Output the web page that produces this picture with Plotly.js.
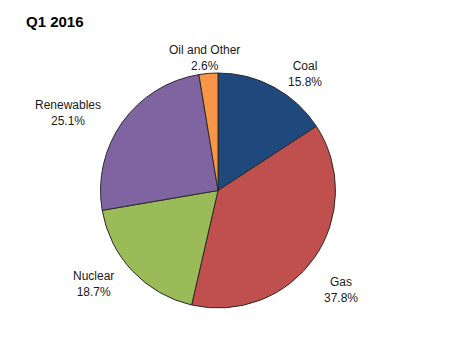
<!DOCTYPE html>
<html><head><meta charset="utf-8">
<script src="https://cdn.plot.ly/plotly-3.0.1.min.js"></script>
<style>html,body{margin:0;padding:0;background:#fff}#chart{width:459px;height:362px}</style>
</head><body><div id="chart"></div>
<script>
const categories = ["Coal", "Gas", "Nuclear", "Renewables", "Oil and Other"];
const shares = [15.8, 37.8, 18.7, 25.1, 2.6];
const sliceColors = ["#1F497D", "#C0504D", "#9BBB59", "#8064A2", "#F79646"];
const chartTitle = "Q1 2016";
// label block centres in pixels (layout only)
const labelPos = [[305, 74], [341, 290], [93, 284], [68, 113], [204, 58]];

const W = 459, H = 362;
const annotations = categories.map((c, i) => ({
  text: c + "<br>" + shares[i].toFixed(1) + "%",
  xref: "paper", yref: "paper",
  x: labelPos[i][0] / W, y: 1 - labelPos[i][1] / H,
  xanchor: "center", yanchor: "middle",
  showarrow: false,
  font: {family: "Arial, Liberation Sans, sans-serif", size: 12, color: "#1a1a1a"}
}));
annotations.push({
  text: "<b>" + chartTitle + "</b>",
  xref: "paper", yref: "paper", x: 24 / W, y: 1 - 21 / H,
  xanchor: "left", yanchor: "middle", showarrow: false,
  font: {family: "Arial, Liberation Sans, sans-serif", size: 15, color: "#000"}
});

const cx = 218, cy = 190.5, R = 117.5;
Plotly.newPlot("chart", [{
  type: "pie",
  labels: categories,
  values: shares,
  sort: false,
  direction: "clockwise",
  rotation: 0,
  textinfo: "none",
  hoverinfo: "label+percent",
  marker: {colors: sliceColors, line: {color: "#2a2a2a", width: 1}},
  domain: {x: [(cx - R) / W, (cx + R) / W], y: [(H - cy - R) / H, (H - cy + R) / H]}
}], {
  width: W, height: H,
  margin: {l: 0, r: 0, t: 0, b: 0},
  showlegend: false,
  paper_bgcolor: "#fff",
  annotations: annotations
}, {displayModeBar: false, staticPlot: true});
</script></body></html>
